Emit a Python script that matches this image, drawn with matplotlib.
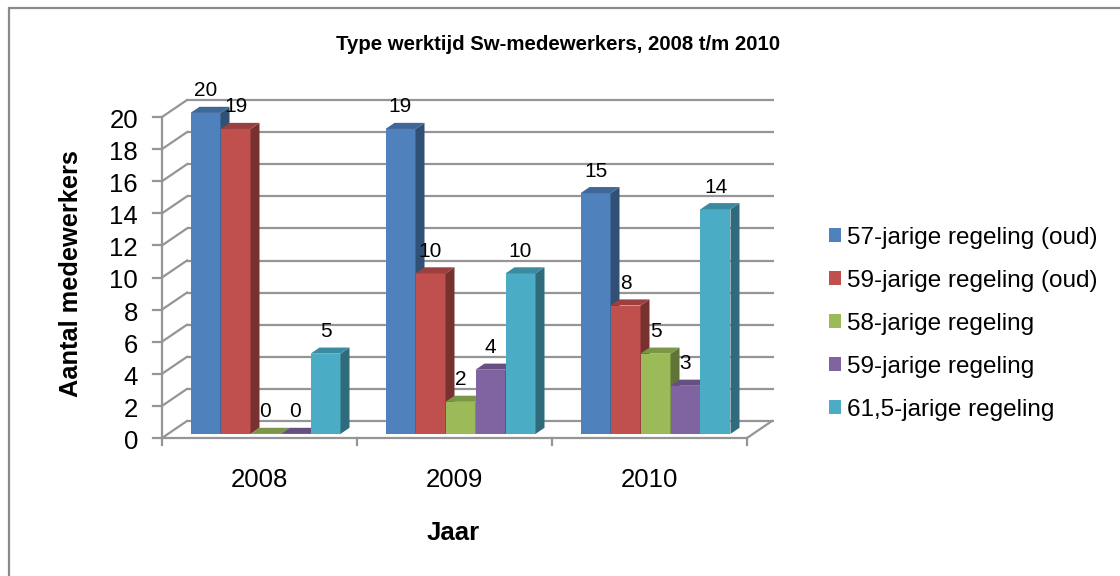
import matplotlib
matplotlib.use('Agg')
import matplotlib.pyplot as plt
from matplotlib.patches import Polygon, Rectangle
from matplotlib.colors import to_rgb

# ---------------- data ----------------
years = ['2008', '2009', '2010']
series_names = ['57-jarige regeling (oud)', '59-jarige regeling (oud)',
                '58-jarige regeling', '59-jarige regeling', '61,5-jarige regeling']
s57_oud = [20, 19, 15]
s59_oud = [19, 10, 8]
s58 = [0, 2, 5]
s59 = [0, 4, 3]
s615 = [5, 10, 14]
series_values = [s57_oud, s59_oud, s58, s59, s615]
colors = ['#4F81BD', '#C0504D', '#9BBB59', '#8064A2', '#4BACC6']
yticks = list(range(0, 21, 2))
title = 'Type werktijd Sw-medewerkers, 2008 t/m 2010'
xlabel = 'Jaar'
ylabel = 'Aantal medewerkers'

plt.rcParams['font.family'] = ['Liberation Sans', 'DejaVu Sans']

W, H = 1120, 576
fig = plt.figure(figsize=(W / 100, H / 100), dpi=100)


def fx(px):
    return px / W


def fy(py):
    return 1 - py / H


# front plane of the 3D box
X0, X1, YB, YT = 162, 747, 438, 117
ax = fig.add_axes([fx(X0), fy(YB), fx(X1) - fx(X0), fy(YT) - fy(YB)])
ax.set_xlim(-0.5, 2.5)
ax.set_ylim(0, 20)
ax.axis('off')

pxu_x = (X1 - X0) / 3.0
pxu_y = (YB - YT) / 20.0
DX = 25 / pxu_x          # full depth offset (data units)
DY = 17 / pxu_y
f0, f1 = 0.24, 0.60      # bar depth range
grid_c = '#959595'
lw = 1.6

# back wall gridlines and left wall lines
for v in yticks:
    ax.plot([-0.5 + DX, 2.5 + DX + 0.01], [v + DY, v + DY], color=grid_c, lw=lw,
            clip_on=False, zorder=1, solid_capstyle='butt')
    ax.plot([-0.5, -0.5 + DX], [v, v + DY], color=grid_c, lw=lw, clip_on=False, zorder=1)
    ax.plot([-0.5 - 9 / pxu_x, -0.5], [v, v], color=grid_c, lw=lw, clip_on=False, zorder=1)
    ax.text(-0.5 - 24 / pxu_x, v - 4 / pxu_y, str(v), ha='right', va='center',
            fontsize=18.5, color='black')
# front vertical axis
ax.plot([-0.5, -0.5], [0, 20], color=grid_c, lw=lw, clip_on=False, zorder=1)
# floor edges
ax.plot([-0.5, 2.5], [0, 0], color=grid_c, lw=lw, clip_on=False, zorder=1)
ax.plot([2.5, 2.5 + DX], [0, DY], color=grid_c, lw=lw, clip_on=False, zorder=1)
for c in [-0.5, 0.5, 1.5, 2.5]:
    ax.plot([c, c], [0, -7 / pxu_y], color=grid_c, lw=lw, clip_on=False, zorder=1)
for i, yr in enumerate(years):
    ax.text(i, -42 / pxu_y, yr, ha='center', va='center', fontsize=18.5)

# bars
bw = 30 / pxu_x
n = len(series_values)
ddx = (f1 - f0) * DX
ddy = (f1 - f0) * DY
base = f0 * DY


def shade(c, k):
    r, g, b = to_rgb(c)
    return (r * k, g * k, b * k)


handles = []
for j, (vals, col, name) in enumerate(zip(series_values, colors, series_names)):
    xs = [i + f0 * DX + (j - (n - 1) / 2) * bw for i in range(len(years))]
    z = 3 + j * 0.1
    bars = ax.bar(xs, vals, width=bw, bottom=base, color=col, label=name,
                  zorder=z, clip_on=False, linewidth=0)
    handles.append(bars)
    for rect, v in zip(bars.patches, vals):
        x0 = rect.get_x()
        x1 = x0 + rect.get_width()
        t = base + v
        top = Polygon([(x0, t), (x1, t), (x1 + ddx, t + ddy), (x0 + ddx, t + ddy)],
                      closed=True, facecolor=shade(col, 0.8), edgecolor='none',
                      zorder=z, clip_on=False)
        side = Polygon([(x1, base), (x1 + ddx, base + ddy), (x1 + ddx, t + ddy), (x1, t)],
                       closed=True, facecolor=shade(col, 0.62), edgecolor='none',
                       zorder=z, clip_on=False)
        ax.add_patch(side)
        ax.add_patch(top)
        ax.text((x0 + x1) / 2, t + 22 / pxu_y, str(v), ha='center', va='center',
                fontsize=15, zorder=10, clip_on=False)

# titles
fig.text(fx(558), fy(45), title, ha='center', va='center', fontsize=14.7, fontweight='bold')
fig.text(fx(453), fy(533), xlabel, ha='center', va='center', fontsize=18.5, fontweight='bold')
fig.text(fx(71), fy(274), ylabel, ha='center', va='center', fontsize=18.3,
         fontweight='bold', rotation=90)

# legend
fig.legend(handles=handles, labels=series_names, loc='upper left',
           bbox_to_anchor=(fx(829), fy(227)), frameon=False, fontsize=17.5,
           handlelength=0.5, handleheight=0.5, handletextpad=0.25,
           labelspacing=0.86, borderpad=0, borderaxespad=0)

# outer border
fig.patches.append(Rectangle((fx(9), -0.05), 1.1, fy(8) + 0.05, transform=fig.transFigure,
                             fill=False, edgecolor='#8A8A8A', linewidth=1.6))

fig.savefig('out.png', dpi=100)
